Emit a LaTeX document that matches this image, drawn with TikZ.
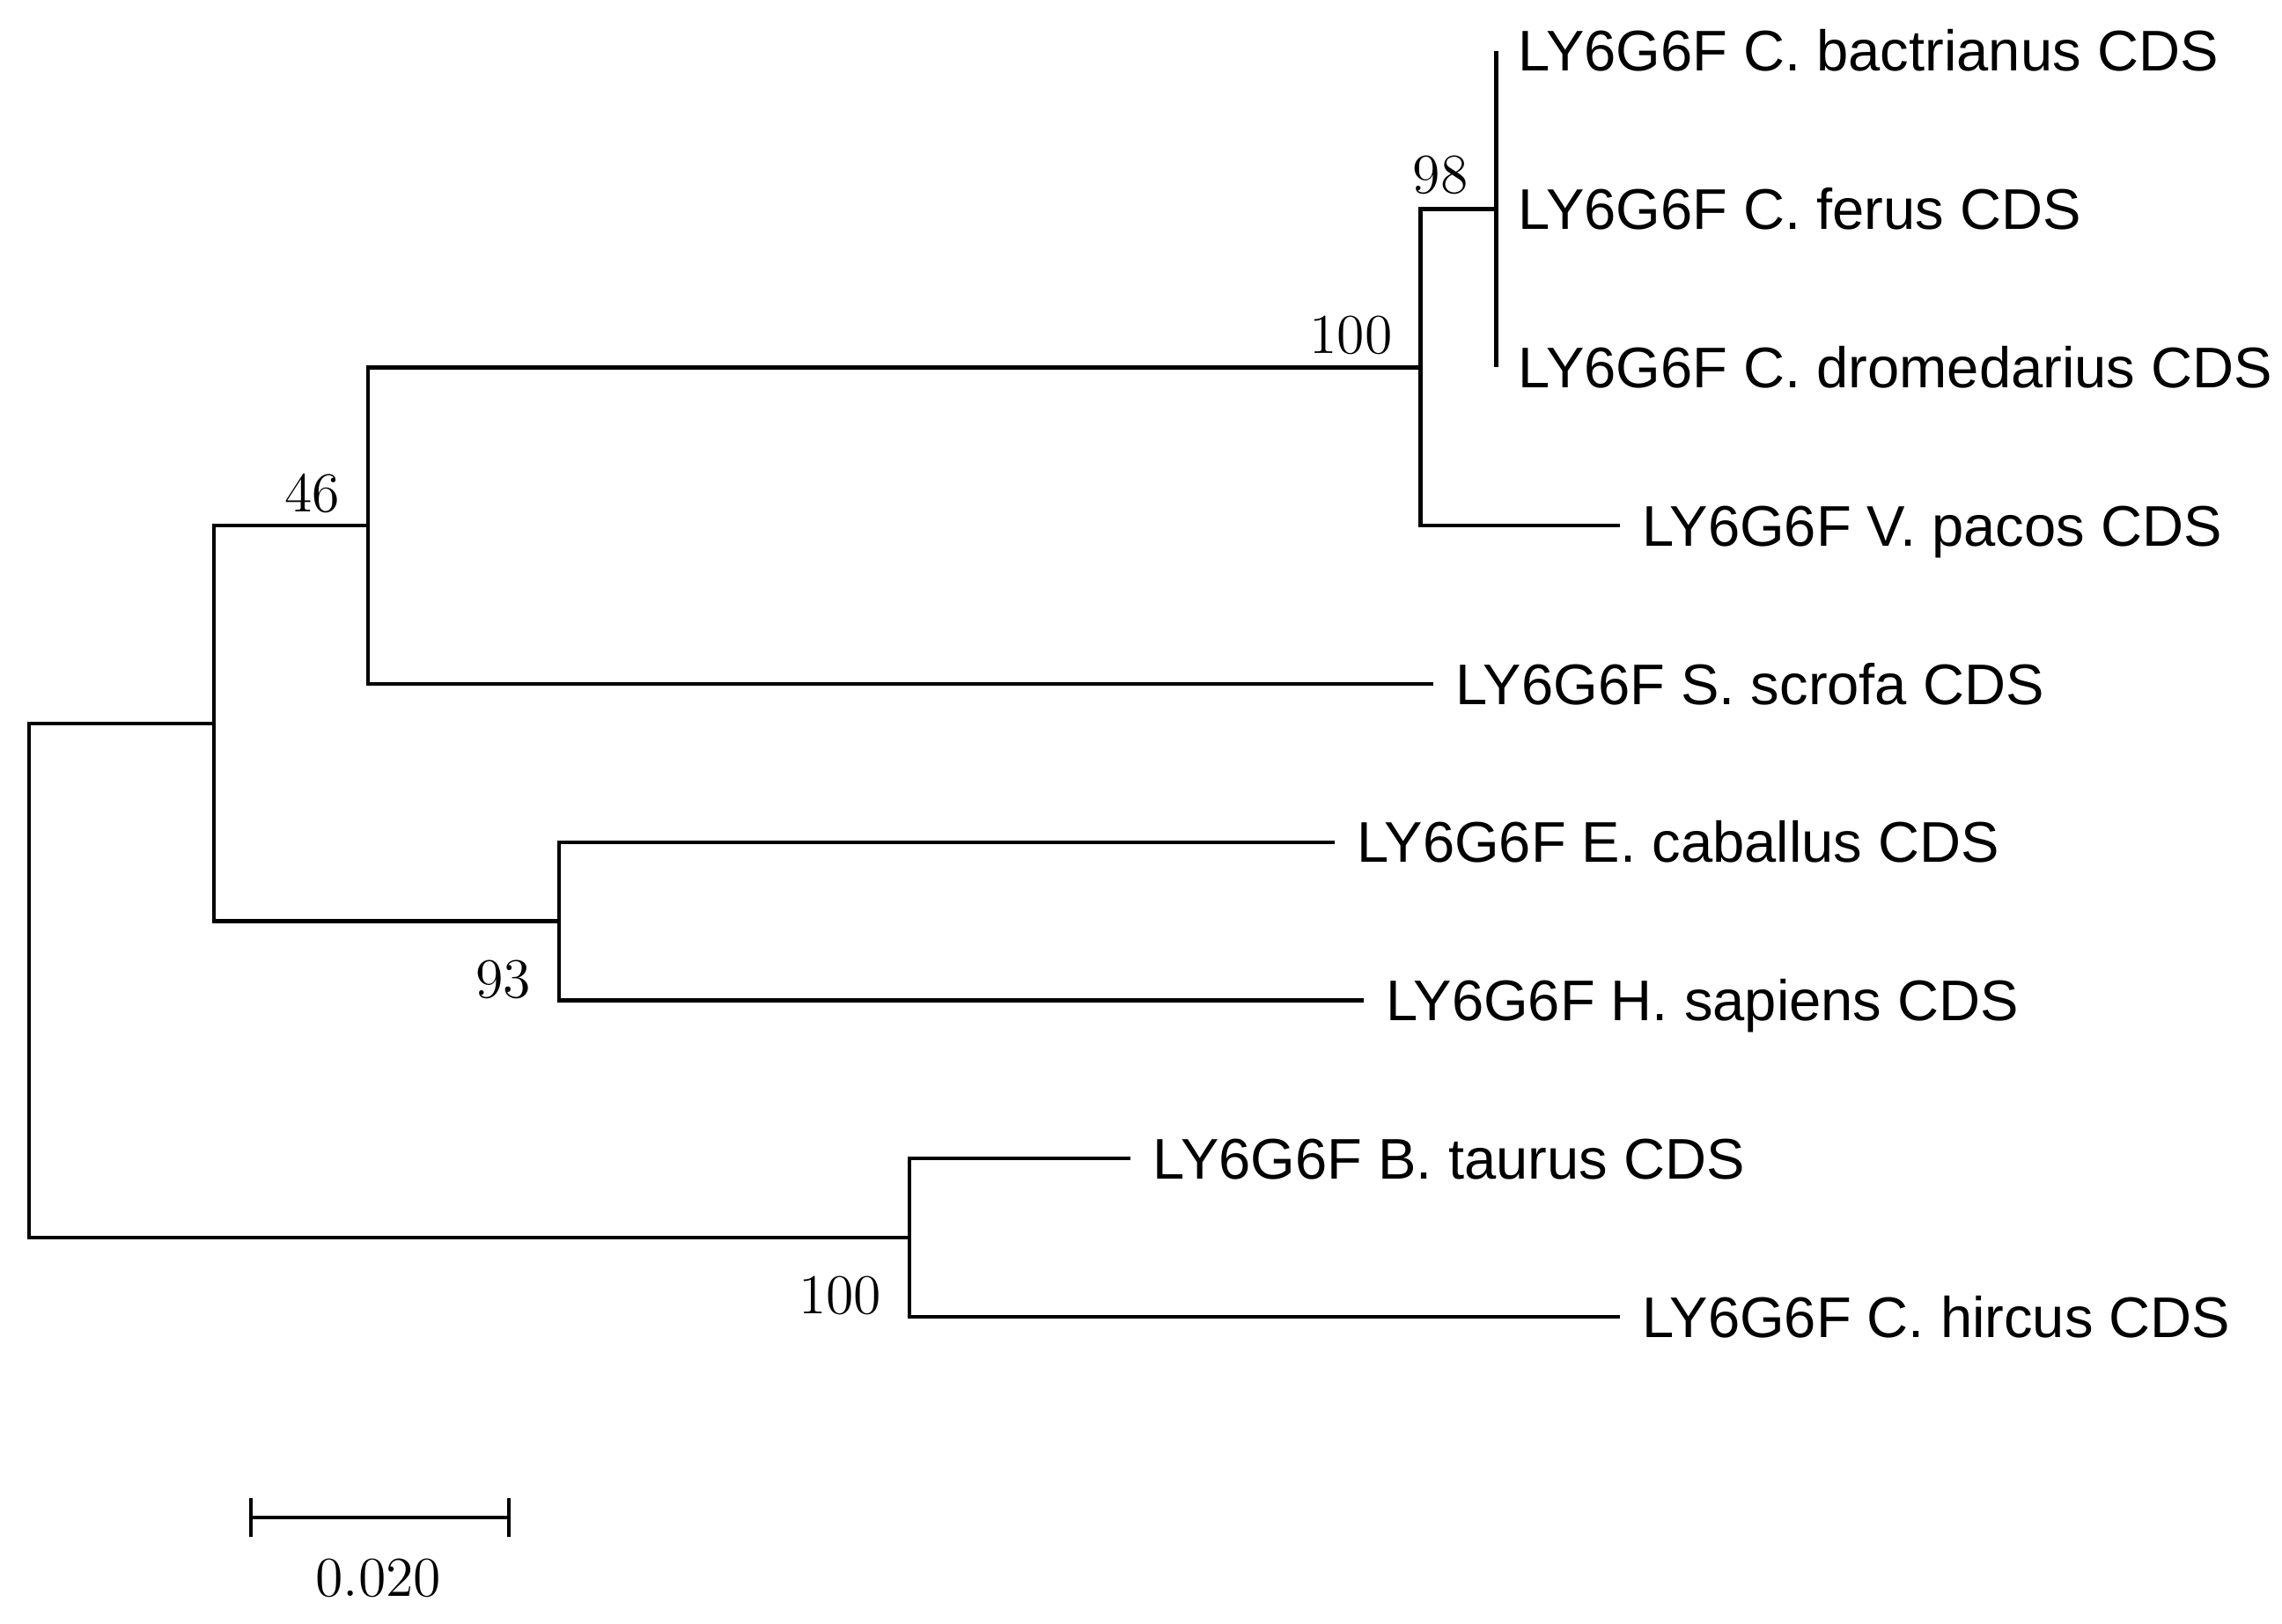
\documentclass[tikz,border=0pt]{standalone}
\usepackage{fontspec}
\newfontfamily\leaffont{Liberation Sans}
\usetikzlibrary{arrows.meta}

\begin{document}
\begin{tikzpicture}[x=0.01cm, y=-0.01cm, line width=0.75pt,
  leaf/.style={anchor=west, inner xsep=0.14cm, inner ysep=0pt, text height=0.28cm, text depth=0pt,
    font=\leaffont\fontsize{11.2}{13}\selectfont},
  boot/.style={anchor=base east, inner sep=0pt,
    font=\fontsize{11}{13}\selectfont\addfontfeatures{LetterSpace=6}}]

  % page
  \fill[white] (0,0) rectangle (1568,1116);

  % Leaves
  \node[leaf] (bact) at (1028,35) {LY6G6F C. bactrianus CDS};
  \node[leaf] (ferus) at (1028,143.75) {LY6G6F C. ferus CDS};
  \node[leaf] (drom) at (1028,252.5) {LY6G6F C. dromedarius CDS};
  \node[leaf] (pacos) at (1113,361.25) {LY6G6F V. pacos CDS};
  \node[leaf] (scrofa) at (985,470) {LY6G6F S. scrofa CDS};
  \node[leaf] (caballus) at (917,578.75) {LY6G6F E. caballus CDS};
  \node[leaf] (sapiens) at (937,687.5) {LY6G6F H. sapiens CDS};
  \node[leaf] (taurus) at (777,796.25) {LY6G6F B. taurus CDS};
  \node[leaf] (hircus) at (1113,905) {LY6G6F C. hircus CDS};

  % Internal nodes
  \coordinate (n98) at (1028,143.75);
  \coordinate (n100a) at (976,252.5);
  \coordinate (n46) at (253,361.25);
  \coordinate (n93) at (384,633.1);
  \coordinate (nA) at (147,497.2);
  \coordinate (n100b) at (625,850.6);
  \coordinate (root) at (20,673.9);

  % Camelid clade
  \draw (bact.west) -- (drom.west);
  \draw (n100a) |- (n98);
  \draw (n100a) |- (pacos.west);
  \draw (n46) |- (n100a);
  \draw (n46) |- (scrofa.west);

  % Horse and human
  \draw (n93) |- (caballus.west);
  \draw (n93) |- (sapiens.west);
  \draw (nA) |- (n46);
  \draw (nA) |- (n93);

  % Bovids
  \draw (n100b) |- (taurus.west);
  \draw (n100b) |- (hircus.west);

  % Root
  \draw (root) |- (nA);
  \draw (root) |- (n100b);

  % Bootstrap values
  \node[boot] (b98) at (1010,133) {98};
  \node[boot] (b100a) at (958,243) {100};
  \node[boot] (b46) at (235,352) {46};
  \node[boot] (b93) at (366,686) {93};
  \node[boot] (b100b) at (607,903) {100};

  % Scale bar
  \coordinate (sbL) at (171,1043);
  \coordinate (sbR) at (351,1043);
  \draw[{Bar[width=0.27cm]}-{Bar[width=0.27cm]}] (sbL) -- (sbR);
  \node[boot, anchor=base, font=\fontsize{11}{13}\selectfont\addfontfeatures{LetterSpace=16}] (sblabel) at (260,1097) {0.020};

  \pgfresetboundingbox
  \useasboundingbox (0,0) rectangle (1568,1116);
\end{tikzpicture}
\end{document}
